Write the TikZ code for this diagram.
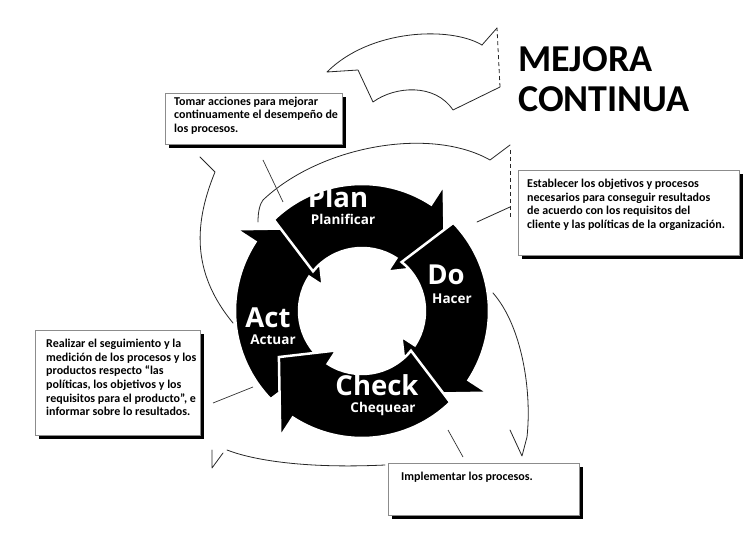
\documentclass[tikz,border=0pt]{standalone}
\usepackage{fontspec}
\setmainfont{Carlito}
\newfontfamily\wheelfont{Open Sans}
\usetikzlibrary{shadows}
\tikzset{
  outl/.style={draw=black!85, line width=0.8pt, line cap=round, line join=round},
  outldash/.style={draw=black!85, line width=0.8pt, dash pattern=on 4pt off 3pt},
  conn/.style={draw=black!80, line width=0.7pt},
  wheelarrow/.style={fill=black, draw=white, line width=2.5pt, line join=miter},
  biglbl/.style={text=white, font=\wheelfont\bfseries\fontsize{27.5}{30}\selectfont, inner sep=0pt, anchor=base},
  smalllbl/.style={text=white, font=\wheelfont\bfseries\fontsize{13.5}{15}\selectfont, inner sep=0pt, anchor=base},
  box/.style={draw=black!45, line width=0.6pt, fill=white, anchor=north west, inner sep=0pt,
    drop shadow={shadow xshift=3.5pt, shadow yshift=-3.5pt, opacity=1, fill=black}},
  boxtext/.style={anchor=north west, inner sep=0pt, align=left, font=\bfseries\fontsize{12}{13.6}\selectfont},
  titletext/.style={anchor=base west, inner sep=0pt, font=\bfseries\fontsize{38}{42}\selectfont},
}
\begin{document}
\begin{tikzpicture}[x=1pt,y=1pt]
\useasboundingbox (0,0) rectangle (755,541);

% ---- outline arrows of the continuous-improvement loop ----
% top arrow
\draw[outl] (482,496) .. controls (450,515) and (370,512) .. (327,469) -- (358,471) -- (373,439)
  .. controls (395,455) and (435,458) .. (453,431) -- (500,454);
\draw[outldash] (500,454) -- (497,513);
\draw[outl] (497,513) -- (482,496);
% second arc (upper right)
\draw[outl] (258,319) .. controls (258,330) and (260,337) .. (263,341)
  .. controls (320,395) and (430,415) .. (490,381) -- (510,396);
\draw[outldash] (510,391) -- (510,324);
\draw[outl] (510,334) -- (477,319);
% left arc
\draw[outl] (200,384) -- (215,369) .. controls (195,320) and (190,270) .. (233,218);
% bottom-left arc with head
\draw[outl] (212,91) -- (212,73) -- (223,88);
\draw[outl] (227,91) .. controls (250,82) and (300,72) .. (385,76);
% right arc with head
\draw[outl] (493,248) .. controls (522,215) and (532,150) .. (527,104) -- (522,85) -- (510,111);

% ---- connectors from boxes towards the wheel ----
\coordinate (c1a) at (263,381); \coordinate (c1b) at (283,339);
\coordinate (c3a) at (213,138); \coordinate (c3b) at (253,154);
\coordinate (c4a) at (448,111); \coordinate (c4b) at (463,84);
\draw[conn] (c1a) -- (c1b);
\draw[conn] (c3a) -- (c3b);
\draw[conn] (c4a) -- (c4b);

% ---- PDCA wheel ----
\begin{scope}[shift={(362,230)}]
  \foreach \to/\ti/\b [evaluate=\b as \p using \b-28] in
      {224/231/147, 134/141/57, 44/51/-33, -46/-39/-123}
    \draw[wheelarrow] (\to:127) arc[start angle=\to, end angle=\b, radius=127]
      -- (\b:150) -- (\p:95) -- (\b:47) -- (\b:63)
      arc[start angle=\b, end angle=\ti, radius=63] -- cycle;
\end{scope}

\node[biglbl] (plan) at (338,333) {Plan};
\node[smalllbl] (planificar) at (343,316.5) {Planificar};
\node[biglbl] (do) at (446,256) {Do};
\node[smalllbl] (hacer) at (452,237.5) {Hacer};
\node[biglbl] (act) at (268,213) {Act};
\node[smalllbl] (actuar) at (273,196.5) {Actuar};
\node[biglbl] (check) at (377,145) {Check};
\node[smalllbl] (chequear) at (383,128) {Chequear};

% ---- title ----
\node[titletext] (mejora) at (518,469) {MEJORA};
\node[titletext] (continua) at (518,429) {CONTINUA};

% ---- text boxes ----
\node[box, minimum width=177pt, minimum height=51pt] (b1) at (165,448) {};
\node[box, minimum width=221pt, minimum height=85pt] (b2) at (518,371) {};
\node[box, minimum width=165pt, minimum height=105pt] (b3) at (35,211) {};
\node[box, minimum width=191pt, minimum height=52pt] (b4) at (388,78) {};

\node[boxtext] (t1) at ([xshift=9pt,yshift=-3.5pt]b1.north west)
  {Tomar acciones para mejorar\\continuamente el desempeño de\\los procesos.};
\node[boxtext] (t2) at ([xshift=9pt,yshift=-9pt]b2.north west)
  {Establecer los objetivos y procesos\\necesarios para conseguir resultados\\de acuerdo con los requisitos del\\cliente y las políticas de la organización.};
\node[boxtext] (t3) at ([xshift=11pt,yshift=-9pt]b3.north west)
  {Realizar el seguimiento y la\\medición de los procesos y los\\productos respecto “las\\políticas, los objetivos y los\\requisitos para el producto”, e\\informar sobre lo resultados.};
\node[boxtext] (t4) at ([xshift=13pt,yshift=-9pt]b4.north west)
  {Implementar los procesos.};
\end{tikzpicture}
\end{document}
